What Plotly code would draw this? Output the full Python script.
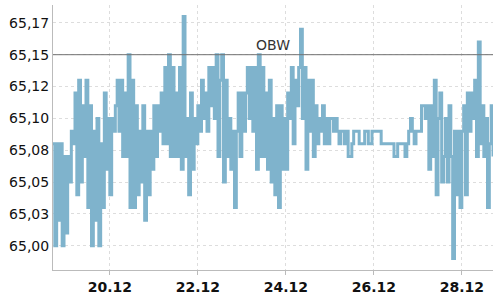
import pandas as pd
import plotly.graph_objects as go

# hourly quotes, starting 18.12 17:00
part1 = [65.08, 65.00, 65.08, 65.02, 65.08, 65.00, 65.07, 65.01, 65.07, 65.05,
         65.09, 65.08, 65.12, 65.04, 65.13, 65.05, 65.11, 65.07, 65.13, 65.03,
         65.11, 65.00, 65.09, 65.02, 65.10, 65.00, 65.08, 65.03, 65.12, 65.06,
         65.10, 65.04, 65.10, 65.09, 65.11, 65.13, 65.09, 65.13, 65.07, 65.12,
         65.07]
part2 = [65.15, 65.03, 65.13, 65.03, 65.11, 65.04, 65.09, 65.05, 65.11, 65.02,
         65.09, 65.04, 65.09, 65.06, 65.11, 65.07, 65.11, 65.09, 65.12, 65.08,
         65.14, 65.08, 65.15, 65.07, 65.14, 65.07, 65.12, 65.07, 65.14, 65.06,
         65.18, 65.07, 65.10, 65.04, 65.12, 65.06, 65.10, 65.08, 65.11, 65.09,
         65.13]
part3 = [65.10, 65.12, 65.09, 65.14, 65.11, 65.14, 65.10, 65.15, 65.07, 65.13,
         65.15, 65.05, 65.13, 65.07, 65.10, 65.06, 65.09, 65.03, 65.09, 65.12,
         65.07, 65.12, 65.09, 65.12, 65.14, 65.10, 65.14, 65.09, 65.14, 65.06,
         65.15, 65.07, 65.14, 65.07, 65.12, 65.06, 65.13, 65.05, 65.10, 65.04]
part4 = [65.11, 65.03, 65.11, 65.06, 65.10, 65.06, 65.12, 65.10, 65.14, 65.08,
         65.13, 65.11, 65.14, 65.17, 65.10, 65.14, 65.06, 65.13, 65.09, 65.13,
         65.07, 65.11, 65.08, 65.10, 65.09, 65.11, 65.08, 65.10, 65.08, 65.10,
         65.10, 65.09, 65.10, 65.09, 65.08, 65.09, 65.09, 65.08, 65.09, 65.07]
part5 = [65.07, 65.08, 65.09, 65.09, 65.09, 65.08, 65.08, 65.08, 65.09, 65.09,
         65.08, 65.08, 65.09, 65.09, 65.09, 65.09, 65.09, 65.08, 65.08, 65.08,
         65.08, 65.08, 65.08, 65.08, 65.07, 65.07, 65.08, 65.08, 65.08, 65.08,
         65.07, 65.08, 65.09, 65.10, 65.09, 65.08, 65.09, 65.09, 65.09, 65.11]
part6 = [65.11, 65.10, 65.11, 65.06, 65.11, 65.07, 65.13, 65.04, 65.10, 65.12,
         65.05, 65.07, 65.10, 65.05, 65.11, 65.07, 64.99, 65.09, 65.04, 65.09,
         65.03, 65.09, 65.11, 65.04, 65.12, 65.09, 65.12, 65.10, 65.13, 65.07,
         65.16, 65.08, 65.11, 65.07, 65.10, 65.03, 65.08, 65.11, 65.07]

values = part1 + part2 + part3 + part4 + part5 + part6
times = pd.date_range("2023-12-18 17:00", periods=len(values), freq="h")

y_tickvals = [65.0, 65.025, 65.05, 65.075, 65.1, 65.125, 65.15, 65.175]
y_ticktext = ["65,00", "65,03", "65,05", "65,08", "65,10", "65,12", "65,15", "65,17"]
x_tickvals = ["2023-12-20", "2023-12-22", "2023-12-24", "2023-12-26", "2023-12-28"]
x_ticktext = ["20.12", "22.12", "24.12", "26.12", "28.12"]
obw_level = 65.15
obw_label = "OBW"

fig = go.Figure()
fig.add_trace(go.Scatter(
    x=times, y=values, mode="lines",
    line=dict(color="#7fb3cc", width=3, shape="hv"),
    showlegend=False, hoverinfo="skip",
))

fig.add_shape(type="line", xref="paper", x0=0, x1=1, yref="y", y0=obw_level, y1=obw_level,
              line=dict(color="#707070", width=1))
fig.add_annotation(x=0.5, xref="paper", y=obw_level, yref="y", text=obw_label,
                   showarrow=False, yanchor="bottom", xanchor="center",
                   font=dict(family="DejaVu Sans", size=14, color="#333333"))

fig.update_layout(
    width=500, height=300,
    margin=dict(l=53, r=7, t=5, b=23),
    paper_bgcolor="white", plot_bgcolor="white",
    font=dict(family="DejaVu Sans", size=14, color="#111111"),
)
fig.update_xaxes(
    range=["2023-12-18 17:00", "2023-12-28 17:00"],
    tickvals=x_tickvals, ticktext=x_ticktext,
    tickfont=dict(family="DejaVu Sans", size=14, color="#111111", weight="bold"),
    showgrid=True, gridcolor="#dddddd", griddash="3px,3px", gridwidth=1,
    showline=True, linecolor="#bbbbbb", linewidth=1,
    ticks="outside", ticklen=4, tickcolor="#bbbbbb",
    zeroline=False,
)
fig.update_yaxes(
    range=[64.981, 65.189],
    tickvals=y_tickvals, ticktext=y_ticktext,
    tickfont=dict(family="DejaVu Sans", size=14, color="#111111"),
    showgrid=True, gridcolor="#dddddd", griddash="3px,3px", gridwidth=1,
    showline=True, linecolor="#bbbbbb", linewidth=1,
    ticks="", zeroline=False,
)

fig.write_html("out.html")
